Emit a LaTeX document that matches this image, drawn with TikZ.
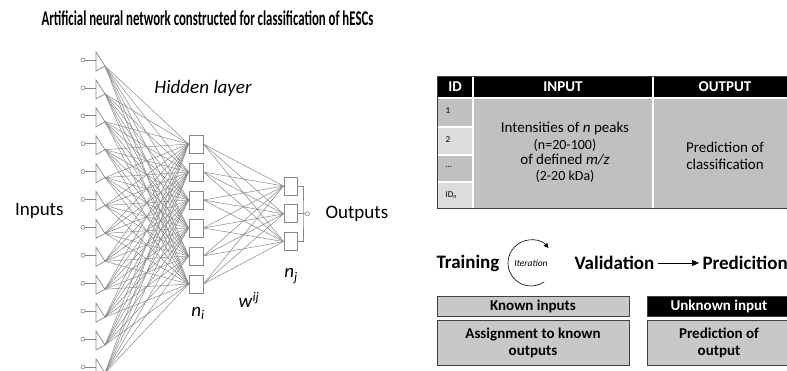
\documentclass[tikz,border=0pt]{standalone}
\usepackage{fontspec}
\setmainfont{Carlito}
\usetikzlibrary{arrows.meta,positioning}
\definecolor{wire}{HTML}{888888}
\definecolor{cellgray}{HTML}{C0C0C0}
\definecolor{celllight}{HTML}{DCDCDC}
\definecolor{boxgray}{HTML}{C8C8C8}
\definecolor{boxline}{HTML}{404040}
\tikzset{
  unit/.style={draw=wire, fill=white, line width=0.8pt, minimum width=14pt, minimum height=18pt, inner sep=0pt},
  link/.style={draw=wire, line width=0.5pt},
  headtext/.style={text=white, font=\bfseries\fontsize{15}{17}\selectfont},
  stagebox/.style={draw=boxline, fill=boxgray, line width=0.8pt, inner sep=0pt, align=center, font=\bfseries\fontsize{15}{17}\selectfont},
  bigtext/.style={font=\fontsize{19}{21}\selectfont},
}
\begin{document}
\begin{tikzpicture}[x=1pt,y=-1pt]
    \useasboundingbox (0,0) rectangle (787,371);
    \clip (0,0) rectangle (787,371);

    \node[anchor=west] (title) at (38,18) {\scalebox{0.61}[1]{\bfseries\fontsize{21}{23}\selectfont Artificial neural network constructed for classification of hESCs}};

    % inputs
    \foreach \k in {1,...,12} {
        \pgfmathsetmacro\cy{60+27.9*(\k-1)}
        \node[circle, draw=wire, line width=0.6pt, minimum size=4pt, inner sep=0pt] (dot\k) at (83,\cy) {};
        \draw[wire, line width=0.7pt] (dot\k) -- (96,\cy);
        \draw[wire, line width=0.7pt] (96,\cy-8) -- (96,\cy+11) -- (105,\cy+6) -- cycle;
        \coordinate (in\k) at (105,\cy+6);
    }

    % hidden and output units
    \foreach \k in {1,...,6}
        \node[unit] (h\k) at (196,{144+28*(\k-1)}) {};
    \foreach \k in {1,...,3}
        \node[unit, minimum width=13pt] (o\k) at (290.5,{186+27.8*(\k-1)}) {};

    \foreach \i in {1,...,12}
        \foreach \j in {1,...,6}
            \draw[link] (in\i) -- (h\j.west);
    \foreach \j in {1,...,6}
        \foreach \k in {1,...,3}
            \draw[link] (h\j.east) -- (o\k.west);

    % output bus
    \coordinate (bus) at (303,{186+27.8});
    \node[circle, draw=wire, line width=0.6pt, minimum size=4pt, inner sep=0pt] (outdot) at (307.5,{186+27.8}) {};
    \draw[wire, line width=0.7pt] (o1.east) -| (bus) |- (o3.east);
    \draw[wire, line width=0.7pt] (o2.east) -- (bus) -- (outdot);

    \node[bigtext, anchor=west] (inlabel) at (11.5,211) {Inputs};
    \node[bigtext, anchor=west] (outlabel) at (322,214) {Outputs};
    \node[bigtext, font=\itshape\fontsize{19}{21}\selectfont] (hiddenlabel) at (203,88) {Hidden layer};
    \node[bigtext] (nilabel) at (198,313) {\textit{n}\textsubscript{\textit{i}}};
    \node[bigtext] (wlabel) at (249,300) {\textit{w}\textsuperscript{\textit{ij}}};
    \node[bigtext] (njlabel) at (291,276) {\textit{n}\textsubscript{\textit{j}}};

    % table
    \fill[black] (437,76) rectangle (797,98);
    \fill[cellgray] (437,98) rectangle (473,127);
    \fill[celllight] (437,127) rectangle (473,155);
    \fill[cellgray] (437,155) rectangle (473,182);
    \fill[celllight] (437,182) rectangle (473,208);
    \fill[cellgray] (473,98) rectangle (797,208);
    \draw[white, line width=1.2pt] (437,98) -- (797,98);
    \foreach \r in {127,155,182}
        \draw[white, line width=1.2pt] (437,\r) -- (473,\r);
    \draw[white, line width=1.4pt] (473,76) -- (473,208);
    \draw[white, line width=1.4pt] (653,76) -- (653,208);
    \draw[boxline, line width=0.8pt] (437,76) rectangle (797,208);

    \node[headtext] (idhead) at (455,87) {ID};
    \node[headtext] (inhead) at (563,87) {INPUT};
    \node[headtext] (outhead) at (725,87) {OUTPUT};

    \node[anchor=west, font=\fontsize{9}{10}\selectfont] (row1) at (442,111) {1};
    \node[anchor=west, font=\fontsize{9}{10}\selectfont] (row2) at (442,140) {2};
    \node[anchor=west, font=\fontsize{9}{10}\selectfont] (row3) at (442,167) {\ldots};
    \node[anchor=west, font=\fontsize{9}{10}\selectfont] (row4) at (442,195) {ID\textsubscript{n}};

    \node[font=\fontsize{15}{17}\selectfont] (inline1) at (565,129) {Intensities of \textit{n} peaks};
    \node[font=\fontsize{14}{16}\selectfont] (inline2) at (565,145) {(n=20-100)};
    \node[font=\fontsize{15}{17}\selectfont] (inline3) at (565,160) {of defined \textit{m/z}};
    \node[font=\fontsize{14}{16}\selectfont] (inline4) at (565,176) {(2-20 kDa)};

    \node[font=\fontsize{15}{17}\selectfont, align=center] (outtext) at (725,155.5) {Prediction of\\classification};

    % training / validation / prediction
    \node[bigtext, font=\bfseries\fontsize{19}{21}\selectfont, anchor=west] (training) at (433,263) {Training};
    \node[font=\itshape\fontsize{9.5}{11}\selectfont] (iteration) at (531,263) {Iteration};
    \draw[-{Latex[length=5pt,width=5pt]}, line width=0.6pt] (iteration.center) ++(55:23) arc[start angle=55, end angle=320, radius=23];
    \node[bigtext, font=\bfseries\fontsize{19}{21}\selectfont, anchor=west] (validation) at (571,263) {Validation};
    \node[bigtext, font=\bfseries\fontsize{19}{21}\selectfont, anchor=west] (prediction) at (699,263) {Predicition};
    \draw[-{Triangle[length=7pt,width=6pt]}, line width=0.7pt] (validation.east) -- (prediction.west);

    \node[stagebox, minimum width=192pt, minimum height=20pt] (known) at (533,306) {Known inputs};
    \node[stagebox, minimum width=192pt, minimum height=45pt] (assign) at (533,342.5) {Assignment to known\\outputs};
    \node[stagebox, fill=black, text=white, minimum width=144pt, minimum height=20pt] (unknown) at (719,306) {Unknown input};
    \node[stagebox, minimum width=144pt, minimum height=45pt] (predout) at (719,342.5) {Prediction of\\output};
\end{tikzpicture}
\end{document}
